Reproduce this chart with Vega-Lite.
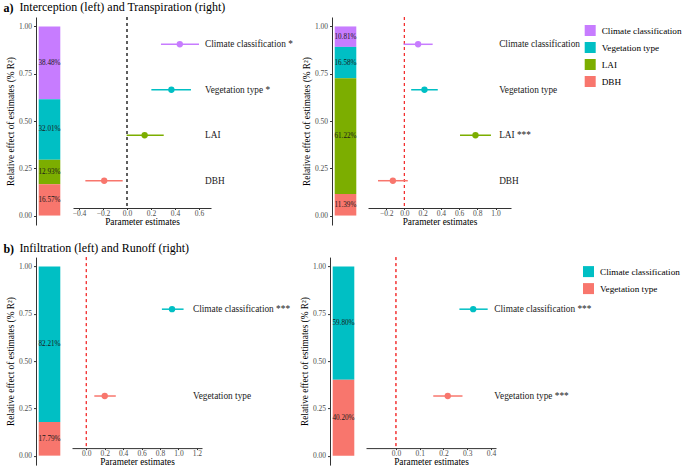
{
  "$schema": "https://vega.github.io/schema/vega-lite/v6.json",
  "padding": {"left": 3, "top": 0, "right": 0, "bottom": 0},
  "background": "white",
  "datasets": {
    "barA_L": [
      {"model": "Interception", "var": "Climate classification", "share": 0.3848, "rank": 4},
      {"model": "Interception", "var": "Vegetation type", "share": 0.3201, "rank": 3},
      {"model": "Interception", "var": "LAI", "share": 0.1293, "rank": 2},
      {"model": "Interception", "var": "DBH", "share": 0.1657, "rank": 1}
    ],
    "barA_R": [
      {"model": "Transpiration", "var": "Climate classification", "share": 0.1081, "rank": 4},
      {"model": "Transpiration", "var": "Vegetation type", "share": 0.1658, "rank": 3},
      {"model": "Transpiration", "var": "LAI", "share": 0.6122, "rank": 2},
      {"model": "Transpiration", "var": "DBH", "share": 0.1139, "rank": 1}
    ],
    "barB_L": [
      {"model": "Infiltration", "var": "Climate classification", "share": 0.8221, "rank": 2},
      {"model": "Infiltration", "var": "Vegetation type", "share": 0.1779, "rank": 1}
    ],
    "barB_R": [
      {"model": "Runoff", "var": "Climate classification", "share": 0.598, "rank": 2},
      {"model": "Runoff", "var": "Vegetation type", "share": 0.402, "rank": 1}
    ],
    "forA_L": [
      {"var": "Climate classification", "est": 0.44, "lo": 0.283, "hi": 0.6, "label": "Climate classification *"},
      {"var": "Vegetation type", "est": 0.37, "lo": 0.203, "hi": 0.533, "label": "Vegetation type *"},
      {"var": "LAI", "est": 0.147, "lo": -0.003, "hi": 0.306, "label": "LAI"},
      {"var": "DBH", "est": -0.19, "lo": -0.347, "hi": -0.036, "label": "DBH"}
    ],
    "forA_R": [
      {"var": "Climate classification", "est": 0.15, "lo": -0.01, "hi": 0.31, "label": "Climate classification"},
      {"var": "Vegetation type", "est": 0.22, "lo": 0.074, "hi": 0.366, "label": "Vegetation type"},
      {"var": "LAI", "est": 0.78, "lo": 0.61, "hi": 0.95, "label": "LAI ***"},
      {"var": "DBH", "est": -0.127, "lo": -0.29, "hi": 0.037, "label": "DBH"}
    ],
    "forB_L": [
      {"var": "Climate classification", "est": 0.93, "lo": 0.82, "hi": 1.055, "label": "Climate classification ***"},
      {"var": "Vegetation type", "est": 0.2, "lo": 0.087, "hi": 0.32, "label": "Vegetation type"}
    ],
    "forB_R": [
      {"var": "Climate classification", "est": 0.325, "lo": 0.267, "hi": 0.386, "label": "Climate classification ***"},
      {"var": "Vegetation type", "est": 0.218, "lo": 0.157, "hi": 0.28, "label": "Vegetation type ***"}
    ]
  },
  "spacing": 14.1,
  "resolve": {"scale": {"color": "independent", "stroke": "independent", "x": "independent", "y": "independent"}},
  "vconcat": [
    {
      "title": {"text": "Interception (left) and Transpiration (right)", "dx": 16, "dy": 16, "offset": 4},
      "resolve": {"scale": {"color": "independent", "stroke": "independent", "x": "independent", "y": "independent"}},
      "vconcat": [
        {
          "title": {"text": "a)", "fontWeight": "bold", "dx": -3, "offset": 1.7},
          "spacing": 9,
          "resolve": {"scale": {"color": "independent", "stroke": "independent", "x": "independent", "y": "independent"}},
          "hconcat": [
            {
              "width": 27, "height": 208,
              "data": {"name": "barA_L"},
              "transform": [
                {"stack": "share", "groupby": ["model"], "sort": [{"field": "rank", "order": "ascending"}], "as": ["y0", "y1"]},
                {"calculate": "(datum.y0 + datum.y1) / 2", "as": "mid"}
              ],
              "encoding": {"x": {"field": "model", "type": "nominal", "axis": null, "scale": {"paddingInner": 0.2, "paddingOuter": 0.1}}},
              "layer": [
                {"mark": "bar", "encoding": {
                  "y": {"field": "y0", "type": "quantitative", "title": "Relative effect of estimates (% R²)", "scale": {"domain": [-0.05, 1.05], "nice": false, "zero": false}, "axis": {"values": [0, 0.25, 0.5, 0.75, 1], "format": ".2f", "titlePadding": 3, "labelPadding": 2}},
                  "y2": {"field": "y1"},
                  "color": {"field": "var", "type": "nominal", "scale": {"domain": ["Climate classification", "Vegetation type", "LAI", "DBH"], "range": ["#C77CFF", "#00BFC4", "#7CAE00", "#F8766D"]}, "legend": null}
                }},
                {"mark": {"type": "text", "fontSize": 7.2, "color": "#1a1a1a"}, "encoding": {
                  "y": {"field": "mid", "type": "quantitative", "title": "Relative effect of estimates (% R²)", "axis": {"values": [0, 0.25, 0.5, 0.75, 1], "format": ".2f", "titlePadding": 3, "labelPadding": 2}},
                  "text": {"field": "share", "format": ".2%"}
                }}
              ]
            },
            {
              "width": 138, "height": 191,
              "data": {"name": "forA_L"},
              "layer": [
                {"mark": {"type": "rule", "strokeDash": [3, 3], "color": "#555555", "strokeWidth": 1},
                 "encoding": {"x": {"datum": 0, "type": "quantitative", "title": "Parameter estimates", "scale": {"domain": [-0.45, 0.7], "nice": false, "zero": false}, "axis": {"values": [-0.4, -0.2, 0, 0.2, 0.4, 0.6], "format": ".1f", "labelOverlap": false}}}},
                {"mark": {"type": "rule", "strokeWidth": 1.5},
                 "encoding": {
                   "x": {"field": "lo", "type": "quantitative", "title": "Parameter estimates", "axis": {"values": [-0.4, -0.2, 0, 0.2, 0.4, 0.6], "format": ".1f", "labelOverlap": false}},
                   "x2": {"field": "hi"},
                   "y": {"field": "var", "type": "nominal", "axis": null, "scale": {"type": "point", "padding": 0.6, "domain": ["Climate classification", "Vegetation type", "LAI", "DBH"]}},
                   "color": {"field": "var", "type": "nominal", "scale": {"domain": ["Climate classification", "Vegetation type", "LAI", "DBH"], "range": ["#C77CFF", "#00BFC4", "#7CAE00", "#F8766D"]}, "legend": null}
                 }},
                {"mark": {"type": "point", "filled": true, "size": 40, "opacity": 1},
                 "encoding": {
                   "x": {"field": "est", "type": "quantitative", "title": "Parameter estimates", "axis": {"values": [-0.4, -0.2, 0, 0.2, 0.4, 0.6], "format": ".1f", "labelOverlap": false}},
                   "y": {"field": "var", "type": "nominal", "axis": null},
                   "color": {"field": "var", "type": "nominal", "legend": null}
                 }},
                {"mark": {"type": "text", "align": "left", "baseline": "middle", "fontSize": 9.3, "color": "#1a1a1a"},
                 "encoding": {
                   "x": {"datum": 0.65, "type": "quantitative", "title": "Parameter estimates", "axis": {"values": [-0.4, -0.2, 0, 0.2, 0.4, 0.6], "format": ".1f", "labelOverlap": false}},
                   "y": {"field": "var", "type": "nominal", "axis": null},
                   "text": {"field": "label"}
                 }}
              ]
            },
            {
              "width": 27, "height": 208,
              "data": {"name": "barA_R"},
              "transform": [
                {"stack": "share", "groupby": ["model"], "sort": [{"field": "rank", "order": "ascending"}], "as": ["y0", "y1"]},
                {"calculate": "(datum.y0 + datum.y1) / 2", "as": "mid"}
              ],
              "encoding": {"x": {"field": "model", "type": "nominal", "axis": null, "scale": {"paddingInner": 0.2, "paddingOuter": 0.1}}},
              "layer": [
                {"mark": "bar", "encoding": {
                  "y": {"field": "y0", "type": "quantitative", "title": "Relative effect of estimates (% R²)", "scale": {"domain": [-0.05, 1.05], "nice": false, "zero": false}, "axis": {"values": [0, 0.25, 0.5, 0.75, 1], "format": ".2f", "titlePadding": 3, "labelPadding": 2}},
                  "y2": {"field": "y1"},
                  "color": {"field": "var", "type": "nominal", "scale": {"domain": ["Climate classification", "Vegetation type", "LAI", "DBH"], "range": ["#C77CFF", "#00BFC4", "#7CAE00", "#F8766D"]}, "legend": null}
                }},
                {"mark": {"type": "text", "fontSize": 7.2, "color": "#1a1a1a"}, "encoding": {
                  "y": {"field": "mid", "type": "quantitative", "title": "Relative effect of estimates (% R²)", "axis": {"values": [0, 0.25, 0.5, 0.75, 1], "format": ".2f", "titlePadding": 3, "labelPadding": 2}},
                  "text": {"field": "share", "format": ".2%"}
                }}
              ]
            },
            {
              "width": 143, "height": 191,
              "data": {"name": "forA_R"},
              "layer": [
                {"mark": {"type": "rule", "strokeDash": [3, 3], "color": "#F23030", "strokeWidth": 1},
                 "encoding": {"x": {"datum": 0, "type": "quantitative", "title": "Parameter estimates", "scale": {"domain": [-0.4, 1.17], "nice": false, "zero": false}, "axis": {"values": [-0.2, 0, 0.2, 0.4, 0.6, 0.8, 1.0], "format": ".1f", "labelOverlap": false}}}},
                {"mark": {"type": "rule", "strokeWidth": 1.5},
                 "encoding": {
                   "x": {"field": "lo", "type": "quantitative", "title": "Parameter estimates", "axis": {"values": [-0.2, 0, 0.2, 0.4, 0.6, 0.8, 1.0], "format": ".1f", "labelOverlap": false}},
                   "x2": {"field": "hi"},
                   "y": {"field": "var", "type": "nominal", "axis": null, "scale": {"type": "point", "padding": 0.6, "domain": ["Climate classification", "Vegetation type", "LAI", "DBH"]}},
                   "stroke": {"field": "label", "type": "nominal", "scale": {"domain": ["Climate classification", "Vegetation type", "LAI ***", "DBH"], "range": ["#C77CFF", "#00BFC4", "#7CAE00", "#F8766D"]}, "legend": null}
                 }},
                {"mark": {"type": "point", "filled": true, "size": 40, "opacity": 1},
                 "encoding": {
                   "x": {"field": "est", "type": "quantitative", "title": "Parameter estimates", "axis": {"values": [-0.2, 0, 0.2, 0.4, 0.6, 0.8, 1.0], "format": ".1f", "labelOverlap": false}},
                   "y": {"field": "var", "type": "nominal", "axis": null},
                   "color": {"field": "var", "type": "nominal", "scale": {"domain": ["Climate classification", "Vegetation type", "LAI", "DBH"], "range": ["#C77CFF", "#00BFC4", "#7CAE00", "#F8766D"]},
                     "legend": {"orient": "none", "legendX": 216.7, "legendY": 8, "offset": 0, "title": null, "symbolType": "square", "symbolSize": 121, "symbolStrokeWidth": 0, "symbolOpacity": 1, "labelFontSize": 9.2, "labelFont": "Liberation Serif", "labelColor": "#000000", "rowPadding": 6, "labelOffset": 6}}
                 }},
                {"mark": {"type": "text", "align": "left", "baseline": "middle", "fontSize": 9.3, "color": "#1a1a1a"},
                 "encoding": {
                   "x": {"datum": 1.04, "type": "quantitative", "title": "Parameter estimates", "axis": {"values": [-0.2, 0, 0.2, 0.4, 0.6, 0.8, 1.0], "format": ".1f", "labelOverlap": false}},
                   "y": {"field": "var", "type": "nominal", "axis": null},
                   "text": {"field": "label"}
                 }}
              ]
            }
          ]
        }
      ]
    },
    {
      "title": {"text": "Infiltration (left) and Runoff (right)", "dx": 16, "dy": 16, "offset": 4},
      "resolve": {"scale": {"color": "independent", "stroke": "independent", "x": "independent", "y": "independent"}},
      "vconcat": [
        {
          "title": {"text": "b)", "fontWeight": "bold", "dx": -3, "offset": 0.7},
          "spacing": 9,
          "resolve": {"scale": {"color": "independent", "stroke": "independent", "x": "independent", "y": "independent"}},
          "hconcat": [
            {
              "width": 27, "height": 208,
              "data": {"name": "barB_L"},
              "transform": [
                {"stack": "share", "groupby": ["model"], "sort": [{"field": "rank", "order": "ascending"}], "as": ["y0", "y1"]},
                {"calculate": "(datum.y0 + datum.y1) / 2", "as": "mid"}
              ],
              "encoding": {"x": {"field": "model", "type": "nominal", "axis": null, "scale": {"paddingInner": 0.2, "paddingOuter": 0.1}}},
              "layer": [
                {"mark": "bar", "encoding": {
                  "y": {"field": "y0", "type": "quantitative", "title": "Relative effect of estimates (% R²)", "scale": {"domain": [-0.05, 1.05], "nice": false, "zero": false}, "axis": {"values": [0, 0.25, 0.5, 0.75, 1], "format": ".2f", "titlePadding": 3, "labelPadding": 2}},
                  "y2": {"field": "y1"},
                  "color": {"field": "var", "type": "nominal", "scale": {"domain": ["Climate classification", "Vegetation type"], "range": ["#00BFC4", "#F8766D"]}, "legend": null}
                }},
                {"mark": {"type": "text", "fontSize": 7.2, "color": "#1a1a1a"}, "encoding": {
                  "y": {"field": "mid", "type": "quantitative", "title": "Relative effect of estimates (% R²)", "axis": {"values": [0, 0.25, 0.5, 0.75, 1], "format": ".2f", "titlePadding": 3, "labelPadding": 2}},
                  "text": {"field": "share", "format": ".2%"}
                }}
              ]
            },
            {
              "width": 130, "height": 191,
              "data": {"name": "forB_L"},
              "layer": [
                {"mark": {"type": "rule", "strokeDash": [3, 3], "color": "#F23030", "strokeWidth": 1},
                 "encoding": {"x": {"datum": 0, "type": "quantitative", "title": "Parameter estimates", "scale": {"domain": [-0.155, 1.255], "nice": false, "zero": false}, "axis": {"values": [0, 0.2, 0.4, 0.6, 0.8, 1.0, 1.2], "format": ".1f", "labelOverlap": false}}}},
                {"mark": {"type": "rule", "strokeWidth": 1.5},
                 "encoding": {
                   "x": {"field": "lo", "type": "quantitative", "title": "Parameter estimates", "axis": {"values": [0, 0.2, 0.4, 0.6, 0.8, 1.0, 1.2], "format": ".1f", "labelOverlap": false}},
                   "x2": {"field": "hi"},
                   "y": {"field": "var", "type": "nominal", "axis": null, "scale": {"type": "point", "padding": 0.6, "domain": ["Climate classification", "Vegetation type"]}},
                   "color": {"field": "var", "type": "nominal", "scale": {"domain": ["Climate classification", "Vegetation type"], "range": ["#00BFC4", "#F8766D"]}, "legend": null}
                 }},
                {"mark": {"type": "point", "filled": true, "size": 40, "opacity": 1},
                 "encoding": {
                   "x": {"field": "est", "type": "quantitative", "title": "Parameter estimates", "axis": {"values": [0, 0.2, 0.4, 0.6, 0.8, 1.0, 1.2], "format": ".1f", "labelOverlap": false}},
                   "y": {"field": "var", "type": "nominal", "axis": null},
                   "color": {"field": "var", "type": "nominal", "legend": null}
                 }},
                {"mark": {"type": "text", "align": "left", "baseline": "middle", "fontSize": 9.3, "color": "#1a1a1a"},
                 "encoding": {
                   "x": {"datum": 1.157, "type": "quantitative", "title": "Parameter estimates", "axis": {"values": [0, 0.2, 0.4, 0.6, 0.8, 1.0, 1.2], "format": ".1f", "labelOverlap": false}},
                   "y": {"field": "var", "type": "nominal", "axis": null},
                   "text": {"field": "label"}
                 }}
              ]
            },
            {
              "width": 27, "height": 208,
              "data": {"name": "barB_R"},
              "transform": [
                {"stack": "share", "groupby": ["model"], "sort": [{"field": "rank", "order": "ascending"}], "as": ["y0", "y1"]},
                {"calculate": "(datum.y0 + datum.y1) / 2", "as": "mid"}
              ],
              "encoding": {"x": {"field": "model", "type": "nominal", "axis": null, "scale": {"paddingInner": 0.2, "paddingOuter": 0.1}}},
              "layer": [
                {"mark": "bar", "encoding": {
                  "y": {"field": "y0", "type": "quantitative", "title": "Relative effect of estimates (% R²)", "scale": {"domain": [-0.05, 1.05], "nice": false, "zero": false}, "axis": {"values": [0, 0.25, 0.5, 0.75, 1], "format": ".2f", "titlePadding": 3, "labelPadding": 2}},
                  "y2": {"field": "y1"},
                  "color": {"field": "var", "type": "nominal", "scale": {"domain": ["Climate classification", "Vegetation type"], "range": ["#00BFC4", "#F8766D"]}, "legend": null}
                }},
                {"mark": {"type": "text", "fontSize": 7.2, "color": "#1a1a1a"}, "encoding": {
                  "y": {"field": "mid", "type": "quantitative", "title": "Relative effect of estimates (% R²)", "axis": {"values": [0, 0.25, 0.5, 0.75, 1], "format": ".2f", "titlePadding": 3, "labelPadding": 2}},
                  "text": {"field": "share", "format": ".2%"}
                }}
              ]
            },
            {
              "width": 130, "height": 191,
              "data": {"name": "forB_R"},
              "layer": [
                {"mark": {"type": "rule", "strokeDash": [3, 3], "color": "#F23030", "strokeWidth": 1},
                 "encoding": {"x": {"datum": 0, "type": "quantitative", "title": "Parameter estimates", "scale": {"domain": [-0.126, 0.421], "nice": false, "zero": false}, "axis": {"values": [0, 0.1, 0.2, 0.3, 0.4], "format": ".1f", "labelOverlap": false}}}},
                {"mark": {"type": "rule", "strokeWidth": 1.5},
                 "encoding": {
                   "x": {"field": "lo", "type": "quantitative", "title": "Parameter estimates", "axis": {"values": [0, 0.1, 0.2, 0.3, 0.4], "format": ".1f", "labelOverlap": false}},
                   "x2": {"field": "hi"},
                   "y": {"field": "var", "type": "nominal", "axis": null, "scale": {"type": "point", "padding": 0.6, "domain": ["Climate classification", "Vegetation type"]}},
                   "stroke": {"field": "label", "type": "nominal", "scale": {"domain": ["Climate classification ***", "Vegetation type ***"], "range": ["#00BFC4", "#F8766D"]}, "legend": null}
                 }},
                {"mark": {"type": "point", "filled": true, "size": 40, "opacity": 1},
                 "encoding": {
                   "x": {"field": "est", "type": "quantitative", "title": "Parameter estimates", "axis": {"values": [0, 0.1, 0.2, 0.3, 0.4], "format": ".1f", "labelOverlap": false}},
                   "y": {"field": "var", "type": "nominal", "axis": null},
                   "color": {"field": "var", "type": "nominal", "scale": {"domain": ["Climate classification", "Vegetation type"], "range": ["#00BFC4", "#F8766D"]},
                     "legend": {"orient": "none", "legendX": 217, "legendY": 9, "offset": 0, "title": null, "symbolType": "square", "symbolSize": 121, "symbolStrokeWidth": 0, "symbolOpacity": 1, "labelFontSize": 9.2, "labelFont": "Liberation Serif", "labelColor": "#000000", "rowPadding": 6, "labelOffset": 6}}
                 }},
                {"mark": {"type": "text", "align": "left", "baseline": "middle", "fontSize": 9.3, "color": "#1a1a1a"},
                 "encoding": {
                   "x": {"datum": 0.414, "type": "quantitative", "title": "Parameter estimates", "axis": {"values": [0, 0.1, 0.2, 0.3, 0.4], "format": ".1f", "labelOverlap": false}},
                   "y": {"field": "var", "type": "nominal", "axis": null},
                   "text": {"field": "label"}
                 }}
              ]
            }
          ]
        }
      ]
    }
  ],
  "config": {
    "font": "Liberation Serif",
    "view": {"stroke": null},
    "title": {"font": "Liberation Serif", "fontSize": 12, "fontWeight": "normal", "color": "#000000", "anchor": "start"},
    "axis": {
      "labelFont": "Liberation Serif", "titleFont": "Liberation Serif",
      "labelFontSize": 7.5, "titleFontSize": 9.3, "titleFontWeight": "normal",
      "labelColor": "#4D4D4D", "titleColor": "#000000",
      "domainColor": "#333333", "tickColor": "#333333", "tickSize": 2.5,
      "grid": false
    },
    "axisX": {"tickSize": 1.5, "labelPadding": 0, "titlePadding": 0, "labelFlush": false},
    "legend": {"labelFont": "Liberation Serif"}
  }
}
